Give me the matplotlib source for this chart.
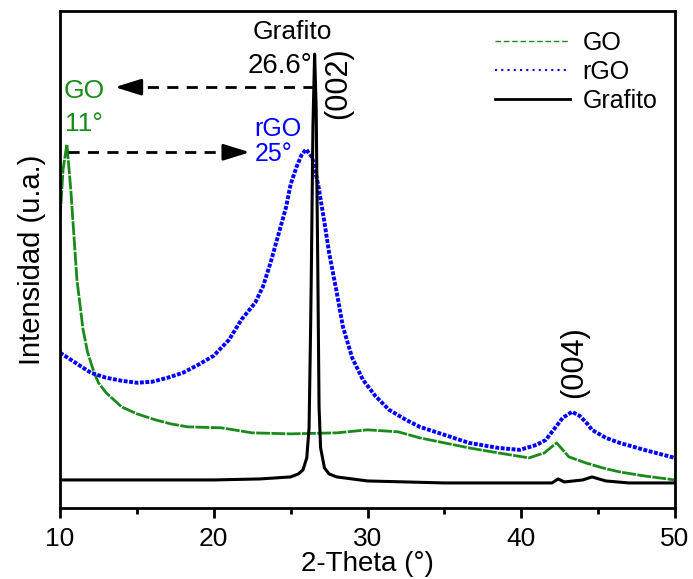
"""XRD patterns: GO, rGO and Grafito."""
import numpy as np
import matplotlib
matplotlib.use('Agg')
import matplotlib.pyplot as plt
from matplotlib.lines import Line2D
from matplotlib.ticker import MultipleLocator

plt.rcParams['font.family'] = ['Liberation Sans', 'DejaVu Sans']

# values (arbitrary units)
go_2theta = [10.0, 10.2, 10.45, 10.7, 11.1, 11.5, 11.8, 12.2, 12.5, 13.0, 13.5, 14.0, 15.0, 16.2,
             17.2, 18.3, 20.5, 22.5, 25.0, 28.0, 30.0, 32.0, 33.4, 35.0, 36.6, 38.5, 40.5, 41.5,
             42.3, 43.1, 44.2, 45.3, 46.4, 48.0, 50.0]
go_int = [288, 338, 363, 318, 228, 178, 155, 136, 125, 115, 108, 101, 94, 88,
          84, 81, 80, 75, 74, 75, 78, 76, 70, 65, 60, 55, 50, 55,
          65, 51, 45, 40, 36, 32, 28]

rgo_2theta = [10.0, 11.0, 12.0, 13.0, 14.0, 15.0, 16.0, 17.0, 18.0, 19.0, 20.0, 21.0, 21.8,
              22.7, 23.2, 23.7, 24.3, 24.7, 25.0, 25.4, 25.7, 26.0, 26.4, 26.8, 27.2, 27.5,
              28.0, 28.4, 29.0, 29.7, 30.5, 31.4, 32.5, 33.4, 35.0, 36.6, 38.5, 39.9, 41.0,
              41.6, 42.2, 42.7, 43.3, 43.8, 44.3, 44.6, 45.5, 46.4, 48.0, 50.0]
rgo_int = [155, 145, 135, 130, 127, 125, 126, 130, 135, 143, 152, 168, 188,
           205, 221, 245, 278, 300, 323, 341, 352, 358, 350, 322, 285, 255,
           215, 181, 150, 128, 112, 98, 88, 81, 73, 65, 60, 58, 63,
           68, 80, 90, 96, 92, 84, 78, 70, 65, 58, 50]

graf_2theta = [10.0, 15.0, 20.0, 23.0, 24.0, 25.0, 25.5, 25.8, 26.05, 26.2, 26.3, 26.35,
               26.45, 26.56, 26.66, 26.76, 26.85, 26.95, 27.2, 27.5, 28.0, 28.5, 30.0, 35.0,
               40.0, 42.0, 42.4, 42.8, 44.0, 44.6, 45.5, 47.0, 50.0]
graf_int = [28, 28, 28, 29, 30, 31, 34, 38, 50, 80, 180, 240,
            380, 453, 400, 250, 100, 60, 40, 34, 31, 30, 27, 25,
            25, 25, 29, 26, 28, 31, 27, 25, 25]

green = '#1a8a1a'
blue = '#0000ff'

fig = plt.figure(figsize=(6.93, 5.79), dpi=100)
ax = fig.add_axes([60 / 693, 71 / 579, 615 / 693, 497 / 579])

ax.plot(go_2theta, go_int, color=green, lw=2.0, ls=(0, (5, 0.5)))
ax.plot(rgo_2theta, rgo_int, color=blue, lw=2.8, ls=(0, (1, 0.4)))
ax.plot(graf_2theta, graf_int, color='black', lw=2.2)

ax.set_xlim(10, 50)
ax.set_ylim(0, 496)
ax.set_yticks([])
ax.xaxis.set_major_locator(MultipleLocator(10))
ax.xaxis.set_minor_locator(MultipleLocator(5))
ax.tick_params(axis='x', which='major', direction='out', length=7, width=2, labelsize=19, pad=7)
ax.tick_params(axis='x', which='minor', direction='out', length=4, width=2)
for s in ax.spines.values():
    s.set_linewidth(2)

ax.set_xlabel('2-Theta (°)', fontsize=20, labelpad=0)
ax.set_ylabel('Intensidad (u.a.)', fontsize=21, labelpad=10)


def dashed_arrow(x0, x1, y):
    # dashed shaft plus a solid filled head
    step = 0.9 if x1 > x0 else -0.9
    ax.plot([x0, x1 - step], [y, y], color='black', lw=2, ls=(0, (4, 3)))
    ax.annotate('', xy=(x1, y), xytext=(x1 - step * 1.3, y),
                arrowprops=dict(arrowstyle='-|>,head_length=1.6,head_width=0.5',
                                lw=2, color='black', shrinkA=0, shrinkB=0))


# annotations
ax.text(25.1, 475, 'Grafito', fontsize=19, ha='center', va='center')
ax.text(26.43, 441, '26.6°', fontsize=20, ha='right', va='center')
dashed_arrow(26.5, 13.57, 420)
ax.text(10.26, 416, 'GO', fontsize=19, color=green, ha='left', va='center')
ax.text(10.33, 383, '11°', fontsize=19, color=green, ha='left', va='center')
dashed_arrow(10.52, 22.34, 355)
ax.text(22.66, 378, 'rGO', fontsize=18, color=blue, ha='left', va='center')
ax.text(22.66, 353, '25°', fontsize=18, color=blue, ha='left', va='center')
ax.text(28.1, 424, '(002)', fontsize=22, rotation=90, ha='center', va='center')
ax.text(43.44, 146, '(004)', fontsize=22, rotation=90, ha='center', va='center')

handles = [Line2D([], [], color=green, lw=1, ls=(0, (4, 2))),
           Line2D([], [], color=blue, lw=1.5, ls=(0, (1, 2))),
           Line2D([], [], color='black', lw=2)]
ax.legend(handles, ['GO', 'rGO', 'Grafito'], loc='upper right', frameon=False, fontsize=18,
          handlelength=3.0, labelspacing=0.2, handletextpad=0.5,
          bbox_to_anchor=(1.0, 0.995), borderaxespad=0.3)

fig.savefig('out.png', dpi=100)
